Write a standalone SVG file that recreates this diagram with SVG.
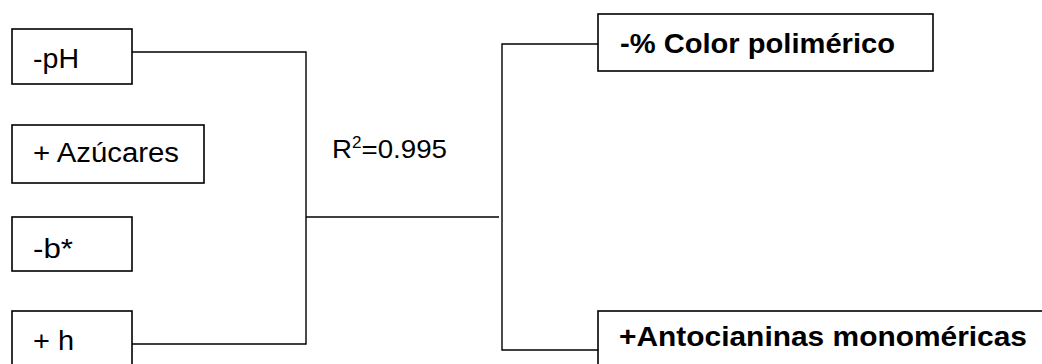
<svg xmlns="http://www.w3.org/2000/svg" width="1042" height="364" viewBox="0 0 1042 364">
<style>
.box{fill:#fff;stroke:#000;stroke-width:1.6}
.t{font-family:"Liberation Sans",Arial,sans-serif;font-size:27px;fill:#000}
.b{font-weight:bold;font-size:27px}
.ln{fill:none;stroke:#000;stroke-width:1.4}
</style>
<rect width="1042" height="364" fill="#fff"/>
<g id="connectors">
<polyline class="ln" points="132,52 306,52 306,344 132,344"/>
<line class="ln" x1="306" y1="217" x2="499" y2="217"/>
<polyline class="ln" points="598,44 502,44 502,350 598,350"/>
</g>
<g id="n-ph"><rect class="box" x="12" y="29" width="120" height="55"/><text class="t" x="33" y="68" textLength="46" lengthAdjust="spacingAndGlyphs">-pH</text></g>
<g id="n-azucares"><rect class="box" x="12" y="125" width="192" height="58"/><text class="t" x="33" y="162" textLength="146" lengthAdjust="spacingAndGlyphs">+ Azúcares</text></g>
<g id="n-b"><rect class="box" x="12" y="217" width="120" height="54"/><text class="t" x="33" y="258" textLength="40" lengthAdjust="spacingAndGlyphs">-b*</text></g>
<g id="n-h"><rect class="box" x="12" y="311" width="120" height="60"/><text class="t" x="33" y="350" textLength="41" lengthAdjust="spacingAndGlyphs">+ h</text></g>
<g id="label-r2"><text class="t" x="332" y="158" style="font-size:26px" textLength="115" lengthAdjust="spacingAndGlyphs">R<tspan dy="-10" style="font-size:16px">2</tspan><tspan dy="10">=0.995</tspan></text></g>
<g id="n-color"><rect class="box" x="598" y="14" width="335" height="57"/><text class="t b" x="620" y="53" textLength="275" lengthAdjust="spacingAndGlyphs">-% Color polimérico</text></g>
<g id="n-antocianinas"><rect class="box" x="598" y="311" width="460" height="60"/><text class="t b" x="619" y="346" textLength="408" lengthAdjust="spacingAndGlyphs">+Antocianinas monoméricas</text></g>
</svg>
